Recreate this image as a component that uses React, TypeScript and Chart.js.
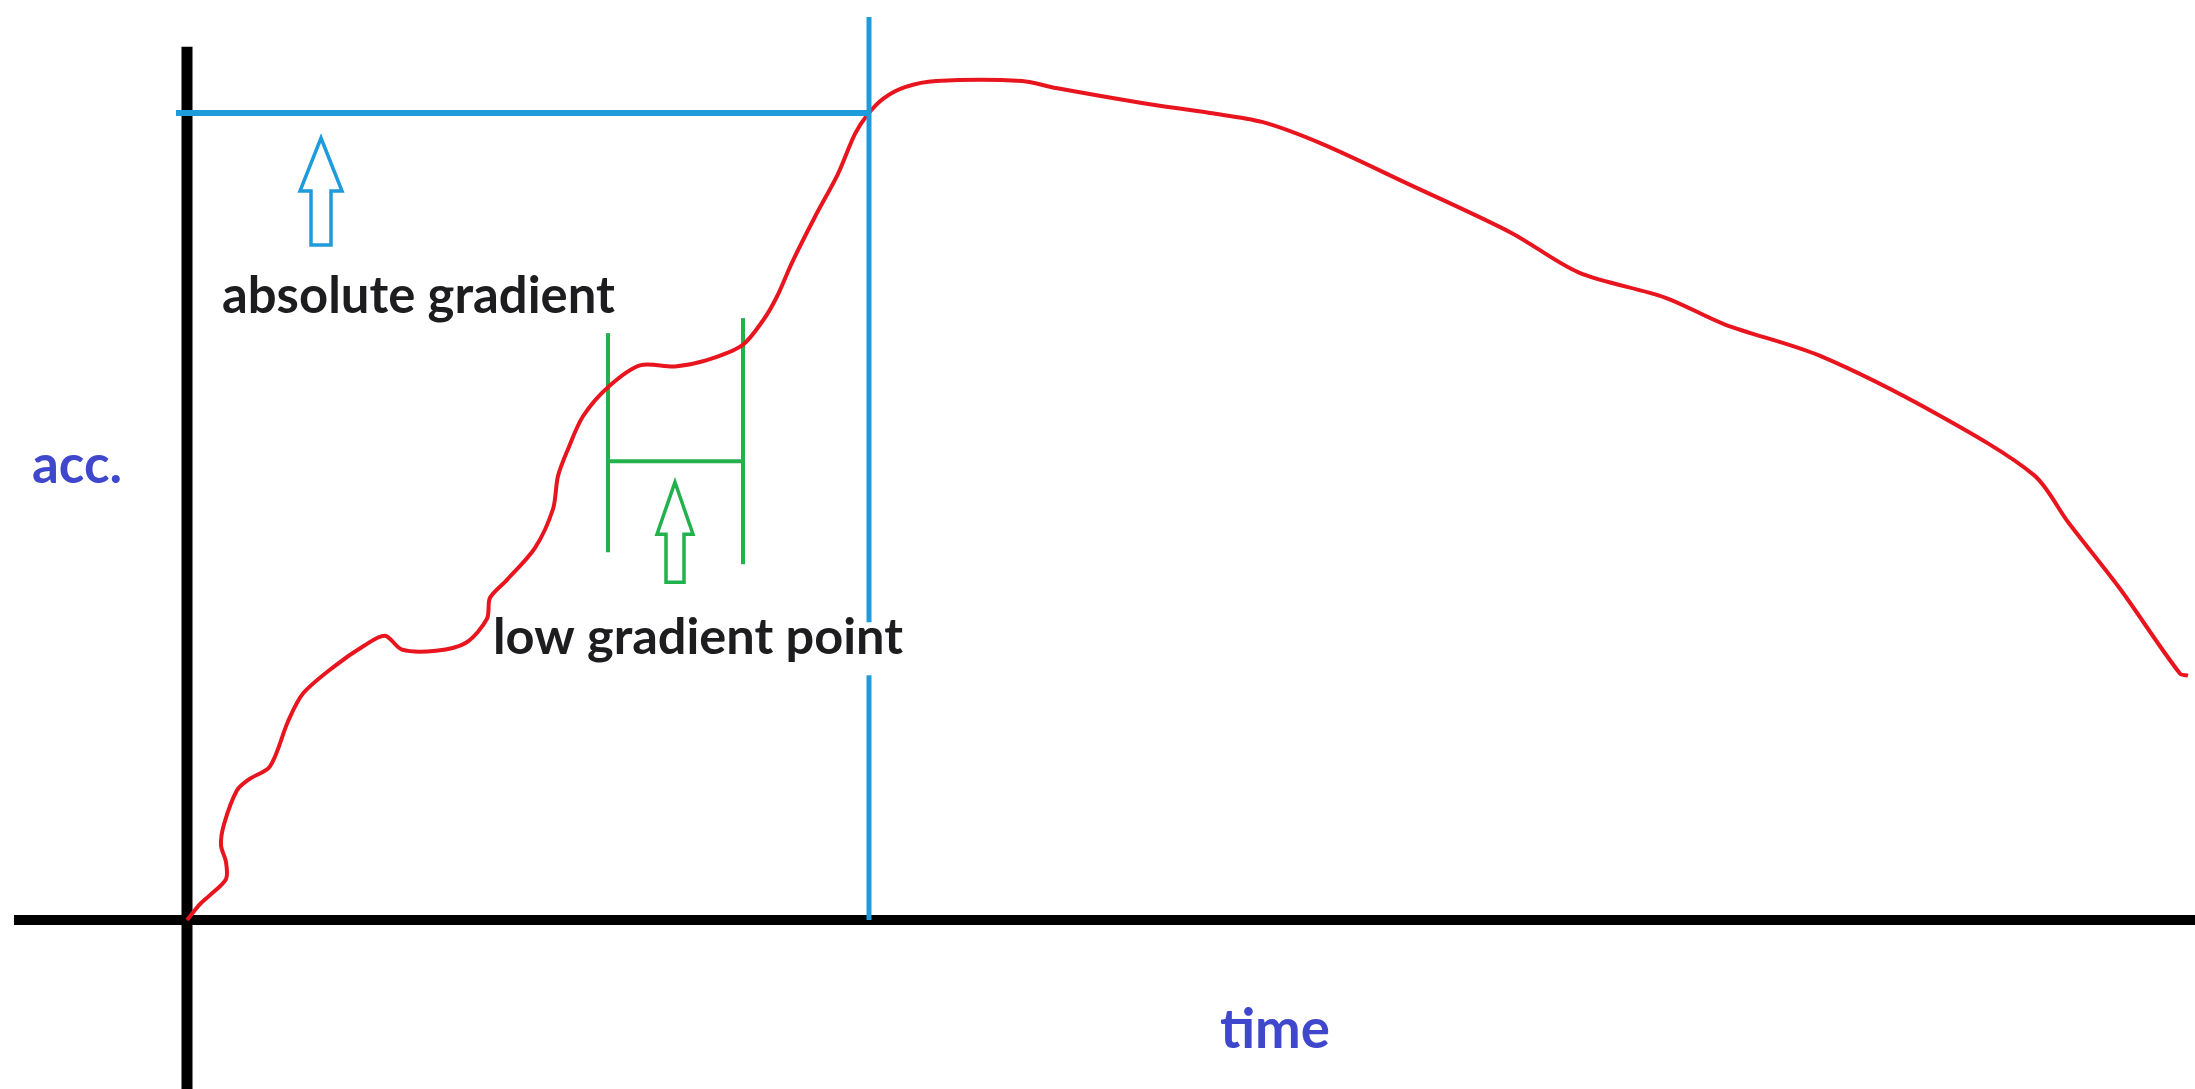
import React, { useEffect, useRef } from "react";
import { Chart, registerables } from "chart.js";

Chart.register(...registerables);

// ---- axis ranges (time, acc.) ----
const X_MIN = -9.35;
const X_MAX = 100.4;
const Y_MIN = -20.94;
const Y_MAX = 114.0;

// ---- red acceleration curve ----
const curveTime = [
  0, 0.65, 1.15, 1.95, 1.95, 1.7, 1.85, 2.5, 3.1, 4.15,
  5.05, 5.8, 7.35, 8.85, 9.9, 10.75, 12.45, 13.95, 15.0, 15.15,
  16.0, 17.4, 18.3, 18.55, 19.05, 19.8, 21.1, 22.65, 24.4, 25.95,
  27.75, 28.8, 29.5, 30.25, 31.4, 32.55, 33.4, 34.05, 34.85, 35.9,
  37.45, 41.75, 43.45, 47.75, 51.15, 53.75, 56.75, 61.05, 66.2, 69.6,
  73.9, 76.9, 81.6, 87.6, 92.35, 94.05, 96.65, 99.65, 100.05,
];
const curveAcc = [
  0, 1.98, 3.09, 5.07, 7.17, 9.27, 11.87, 16.07, 17.43, 19.04,
  24.6, 28.06, 31.4, 33.99, 35.23, 33.5, 33.37, 34.36, 37.33, 39.93,
  42.15, 46.11, 50.93, 55.01, 58.34, 62.42, 66.13, 68.73, 68.6, 69.34,
  71.2, 74.29, 77.26, 81.46, 87.14, 92.46, 97.4, 99.88, 101.85, 103.21,
  103.96, 103.96, 103.09, 101.24, 100.0, 98.89, 96.17, 91.22, 85.17, 80.22,
  77.13, 73.79, 69.96, 62.55, 55.13, 49.32, 41.04, 30.53, 30.28,
];

// ---- black axes ----
const timeAxisT = [-8.65, 100.6];
const accAxisA = [-21.5, 108.2];

// ---- blue "absolute gradient" marker ----
const absoluteLevel = 100;
const absoluteTime = 34.1;
const absoluteLineStartT = -0.55;
const absoluteLineTopA = 111.9;

// ---- green "low gradient" bracket ----
const lowGradStartT = 21.05;
const lowGradEndT = 27.8;
const lowGradStartA = [45.57, 72.72];
const lowGradEndA = [44.08, 74.58];
const lowGradBarA = 56.85;

// ---- labels ----
const textLabels = ["absolute gradient", "low gradient point", "acc.", "time"];

const BLUE = "#1E9BDB";
const GREEN = "#22B14C";
const RED = "#E8141E";
const INDIGO = "#3F48CC";
const INK = "#1d1d1f";

function seg(ts: number[], as: number[]) {
  return ts.map((t, i) => ({ x: t, y: as[i] }));
}

const annotationPlugin = {
  id: "sketchAnnotations",
  afterDatasetsDraw(chart: any) {
    const { ctx, scales } = chart;
    const xs = scales.x;
    const ys = scales.y;
    const px = (t: number) => xs.getPixelForValue(t);
    const py = (a: number) => ys.getPixelForValue(a);

    const drawArrow = (
      t: number, tipA: number, headA: number, baseA: number,
      headHalf: number, shaftHalf: number, color: string
    ) => {
      const cx = px(t);
      const yt = py(tipA), yh = py(headA), yb = py(baseA);
      ctx.save();
      ctx.beginPath();
      ctx.moveTo(cx, yt);
      ctx.lineTo(cx + headHalf, yh);
      ctx.lineTo(cx + shaftHalf, yh);
      ctx.lineTo(cx + shaftHalf, yb);
      ctx.lineTo(cx - shaftHalf, yb);
      ctx.lineTo(cx - shaftHalf, yh);
      ctx.lineTo(cx - headHalf, yh);
      ctx.closePath();
      ctx.strokeStyle = color;
      ctx.lineWidth = 3.5;
      ctx.lineJoin = "miter";
      ctx.stroke();
      ctx.restore();
    };

    drawArrow(6.7, 96.9, 90.33, 83.63, 21, 10, BLUE);
    drawArrow(24.4, 54.25, 47.8, 41.85, 18, 9, GREEN);

    const fitText = (
      text: string, t: number, baseA: number, width: number,
      color: string, box?: [number, number]
    ) => {
      ctx.save();
      const fam = "Lato, 'Open Sans', sans-serif";
      ctx.font = `bold 100px ${fam}`;
      const w100 = ctx.measureText(text).width;
      const size = (100 * width) / w100;
      ctx.font = `bold ${size}px ${fam}`;
      const x0 = px(t);
      const yb = py(baseA);
      if (box) {
        const top = py(box[0]);
        const bot = py(box[1]);
        ctx.fillStyle = "#ffffff";
        ctx.fillRect(x0 - 1, top, width + 4, bot - top);
      }
      ctx.fillStyle = color;
      ctx.textBaseline = "alphabetic";
      ctx.textAlign = "left";
      ctx.fillText(text, x0, yb);
      ctx.restore();
    };

    fitText(textLabels[0], 1.75, 75.2, 393, INK);
    fitText(textLabels[1], 15.3, 32.92, 410, INK, [36.89, 30.32]);
    fitText(textLabels[2], -7.75, 54.12, 90, INDIGO);
    fitText(textLabels[3], 51.65, -15.81, 110, INDIGO);
  },
};

export default function App() {
  const canvasRef = useRef<HTMLCanvasElement | null>(null);

  useEffect(() => {
    const canvas = canvasRef.current;
    if (!canvas) return;

    const lineDs = (data: any[], color: string, width: number, order: number, tension = 0) => ({
      data,
      showLine: true,
      borderColor: color,
      backgroundColor: color,
      borderWidth: width,
      pointRadius: 0,
      pointHoverRadius: 0,
      tension,
      clip: false as any,
      order,
      borderCapStyle: "butt" as const,
    });

    const chart = new Chart(canvas, {
      type: "scatter",
      data: {
        datasets: [
          // red curve
          lineDs(seg(curveTime, curveAcc), RED, 4, 2, 0.3),
          // blue lines
          lineDs(seg([absoluteLineStartT, absoluteTime], [absoluteLevel, absoluteLevel]), BLUE, 6, 1),
          lineDs(seg([absoluteTime, absoluteTime], [0, absoluteLineTopA]), BLUE, 5, 1),
          // green bracket
          lineDs(seg([lowGradStartT, lowGradStartT], lowGradStartA), GREEN, 4, 3),
          lineDs(seg([lowGradEndT, lowGradEndT], lowGradEndA), GREEN, 4, 3),
          lineDs(seg([lowGradStartT, lowGradEndT], [lowGradBarA, lowGradBarA]), GREEN, 4, 3),
          // black axes
          lineDs(seg(timeAxisT, [0, 0]), "#000000", 10, 4),
          lineDs(seg([0, 0], accAxisA), "#000000", 11, 4),
        ],
      },
      options: {
        responsive: false,
        maintainAspectRatio: false,
        animation: false,
        layout: { padding: 0 },
        scales: {
          x: { type: "linear", min: X_MIN, max: X_MAX, display: false },
          y: { type: "linear", min: Y_MIN, max: Y_MAX, display: false },
        },
        plugins: {
          legend: { display: false },
          tooltip: { enabled: false },
          title: { display: false },
        },
        events: [],
      },
      plugins: [annotationPlugin],
    });

    return () => chart.destroy();
  }, []);

  return (
    <div style={{ position: "fixed", left: 0, top: 0, width: 2195, height: 1089, background: "#ffffff" }}>
      <canvas ref={canvasRef} width={2195} height={1089} style={{ display: "block", width: 2195, height: 1089 }} />
    </div>
  );
}
